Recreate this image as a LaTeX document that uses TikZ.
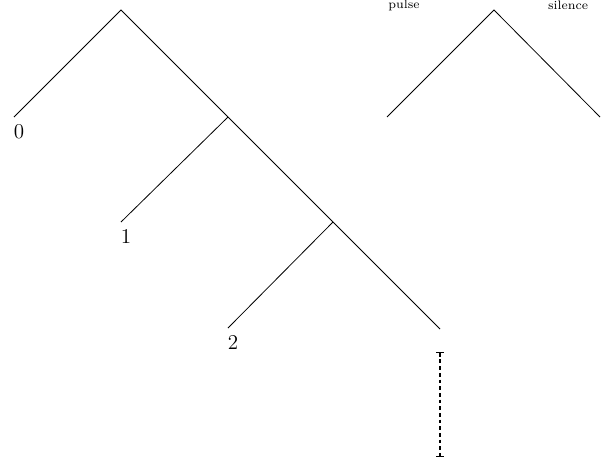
\documentclass[tikz,border=0pt]{standalone}
\usepackage{tikz}
\usetikzlibrary{arrows.meta}

\begin{document}
\begin{tikzpicture}[x=0.02cm,y=-0.02cm,
  edge/.style={line width=0.45pt},
  leaflab/.style={anchor=north,inner sep=0pt,font=\large,xshift=0.1cm,yshift=-0.15cm},
  toplab/.style={font=\scriptsize,inner sep=0pt}]
\useasboundingbox (0,0) rectangle (611,464);
% main tree
\coordinate (root) at (121,10);
\coordinate (n1) at (228,117);
\coordinate (n2) at (333,222);
\coordinate (l0) at (14,117);
\coordinate (l1) at (121,222);
\coordinate (l2) at (228,328);
\coordinate (end) at (440,329);
\draw[edge] (l0) -- (root) -- (end);
\draw[edge] (n1) -- (l1);
\draw[edge] (n2) -- (l2);
\node[leaflab] (t0) at (l0) {$0$};
\node[leaflab] (t1) at (l1) {$1$};
\node[leaflab] (t2) at (l2) {$2$};
% continuation
\coordinate (c0) at (440,352);
\coordinate (c1) at (440,457);
\draw[line width=0.6pt,dash pattern=on 2.2pt off 1.6pt,{|[width=4pt]}-{|[width=4pt]}] (c0) -- (c1);
% legend tree
\coordinate (lr) at (494,10);
\coordinate (ll) at (387,117);
\coordinate (lrr) at (600,117);
\draw[edge] (ll) -- (lr) -- (lrr);
\node[toplab] (pulse) at (404,5) {pulse};
\node[toplab] (silence) at (568,5) {silence};
\end{tikzpicture}
\end{document}
